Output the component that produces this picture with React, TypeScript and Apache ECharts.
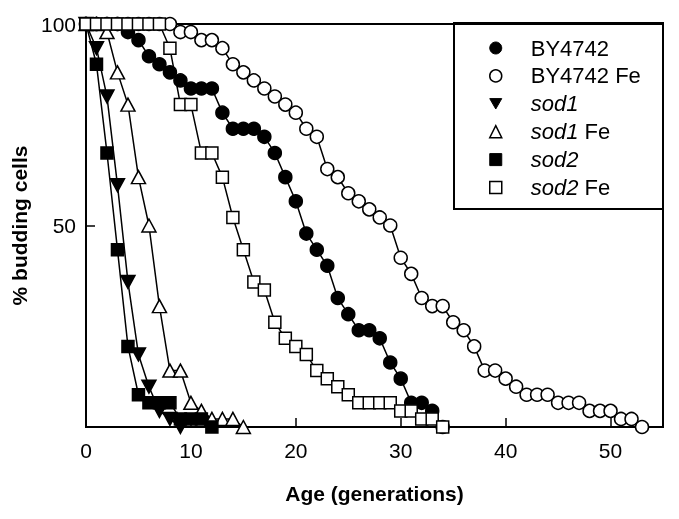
import React, { useEffect, useRef } from 'react';
import * as echarts from 'echarts';

// % budding cells by age (generation 0, 1, 2, ...)
const by4742 = [100, 100, 100, 100, 98, 96, 92, 90, 88, 86, 84, 84, 84, 78, 74, 74, 74, 72, 68, 62, 56, 48, 44, 40, 32, 28, 24, 24, 22, 16, 12, 6, 6, 4, 0];
const by4742Fe = [100, 100, 100, 100, 100, 100, 100, 100, 100, 98, 98, 96, 96, 94, 90, 88, 86, 84, 82, 80, 78, 74, 72, 64, 62, 58, 56, 54, 52, 50, 42, 38, 32, 30, 30, 26, 24, 20, 14, 14, 12, 10, 8, 8, 8, 6, 6, 6, 4, 4, 4, 2, 2, 0];
const sod1 = [100, 94, 82, 60, 36, 18, 10, 4, 2, 0];
const sod1Fe = [100, 100, 98, 88, 80, 62, 50, 30, 14, 14, 6, 4, 2, 2, 2, 0];
const sod2 = [100, 90, 68, 44, 20, 8, 6, 6, 6, 2, 2, 2, 0];
const sod2Fe = [100, 100, 100, 100, 100, 100, 100, 100, 94, 80, 80, 68, 68, 62, 52, 44, 36, 34, 26, 22, 20, 18, 14, 12, 10, 8, 6, 6, 6, 6, 4, 4, 2, 2, 0];

const seriesNames = ['BY4742', 'BY4742 Fe', 'sod1', 'sod1 Fe', 'sod2', 'sod2 Fe'];
const xTitle = 'Age (generations)';
const yTitle = '% budding cells';

export default function App() {
  const ref = useRef<HTMLDivElement>(null);
  useEffect(() => {
    const chart = echarts.init(ref.current!, null, { renderer: 'svg' });
    const font = '"Liberation Sans", Arial, sans-serif';
    const toPts = (ys: number[]) => ys.map((y, i) => [i, y]);
    const mk = (name: string, ys: number[], symbol: string, fill: string, size: any, rotate = 0) => ({
      name,
      type: 'line',
      data: toPts(ys),
      symbol,
      symbolSize: size,
      symbolRotate: rotate,
      showAllSymbol: true,
      lineStyle: { color: '#000', width: 1.5 },
      itemStyle: { color: fill, borderColor: '#000', borderWidth: 1.5 },
      emphasis: { disabled: true },
    });
    const invTri = 'path://M0,0L20,0L10,17.3Z';
    const lf = 22;
    chart.setOption({
      animation: false,
      grid: { left: 86, right: 16, top: 24, bottom: 92, show: true, borderColor: '#000', borderWidth: 2 },
      xAxis: {
        type: 'value', min: 0, max: 55, interval: 10,
        axisLine: { lineStyle: { color: '#000', width: 2 } },
        axisTick: { inside: true, length: 9, lineStyle: { color: '#000', width: 1.5 } },
        axisLabel: { color: '#000', fontSize: 21, fontFamily: font, margin: 13, showMaxLabel: false },
        splitLine: { show: false },
        name: xTitle, nameLocation: 'middle', nameGap: 56,
        nameTextStyle: { color: '#000', fontSize: 21, fontWeight: 'bold', fontFamily: font },
      },
      yAxis: {
        type: 'value', min: 0, max: 100, interval: 50,
        axisLine: { show: true, lineStyle: { color: '#000', width: 2 } },
        axisTick: { show: true, inside: true, length: 9, lineStyle: { color: '#000', width: 1.5 } },
        axisLabel: { color: '#000', fontSize: 21, fontFamily: font, margin: 10, showMinLabel: false },
        splitLine: { show: false },
        name: yTitle, nameLocation: 'middle', nameGap: 47,
        nameTextStyle: { color: '#000', fontSize: 21, fontWeight: 'bold', fontFamily: font },
      },
      legend: {
        orient: 'vertical', left: 454, top: 23, padding: [14, 5, 5, 35],
        itemWidth: 12, itemHeight: 12, itemGap: 5.9,
        selectedMode: false,
        textStyle: {
          color: '#000', fontFamily: font, fontSize: lf, lineHeight: lf,
          rich: {
            a: { color: '#000', fontFamily: font, fontSize: lf, lineHeight: lf, padding: [0, 0, 0, 24] },
            ai: { color: '#000', fontFamily: font, fontSize: lf, lineHeight: lf, fontStyle: 'italic', padding: [0, 0, 0, 24] },
            b: { color: '#000', fontFamily: font, fontSize: lf, lineHeight: lf },
          },
        },
        formatter: (n: string) => {
          if (n.startsWith('sod')) {
            const parts = n.split(' ');
            return parts.length > 1 ? `{ai|${parts[0]}}{b| ${parts[1]}}` : `{ai|${n}}`;
          }
          return `{a|${n}}`;
        },
        data: [
          { name: seriesNames[0], icon: 'circle', itemStyle: { color: '#000', borderColor: '#000', borderWidth: 1 } },
          { name: seriesNames[1], icon: 'circle', itemStyle: { color: '#fff', borderColor: '#000', borderWidth: 1.5 } },
          { name: seriesNames[2], icon: invTri, itemStyle: { color: '#000', borderColor: '#000', borderWidth: 1 } },
          { name: seriesNames[3], icon: 'triangle', itemStyle: { color: '#fff', borderColor: '#000', borderWidth: 1.5 } },
          { name: seriesNames[4], icon: 'rect', itemStyle: { color: '#000', borderColor: '#000', borderWidth: 1 } },
          { name: seriesNames[5], icon: 'rect', itemStyle: { color: '#fff', borderColor: '#000', borderWidth: 1.5 } },
        ],
      },
      graphic: [
        { type: 'rect', shape: { x: 454, y: 23, width: 209, height: 186 }, style: { fill: 'none', stroke: '#000', lineWidth: 2 }, z: 100 },
      ],
      series: [
        mk(seriesNames[0], by4742, 'circle', '#000', 13),
        mk(seriesNames[1], by4742Fe, 'circle', '#fff', 13),
        mk(seriesNames[2], sod1, 'triangle', '#000', [14, 13], 180),
        mk(seriesNames[3], sod1Fe, 'triangle', '#fff', [14, 13]),
        mk(seriesNames[4], sod2, 'rect', '#000', 12),
        mk(seriesNames[5], sod2Fe, 'rect', '#fff', 12),
      ],
    });
    return () => chart.dispose();
  }, []);
  return <div ref={ref} style={{ position: 'fixed', left: 0, top: 0, width: 679, height: 519 }} />;
}
